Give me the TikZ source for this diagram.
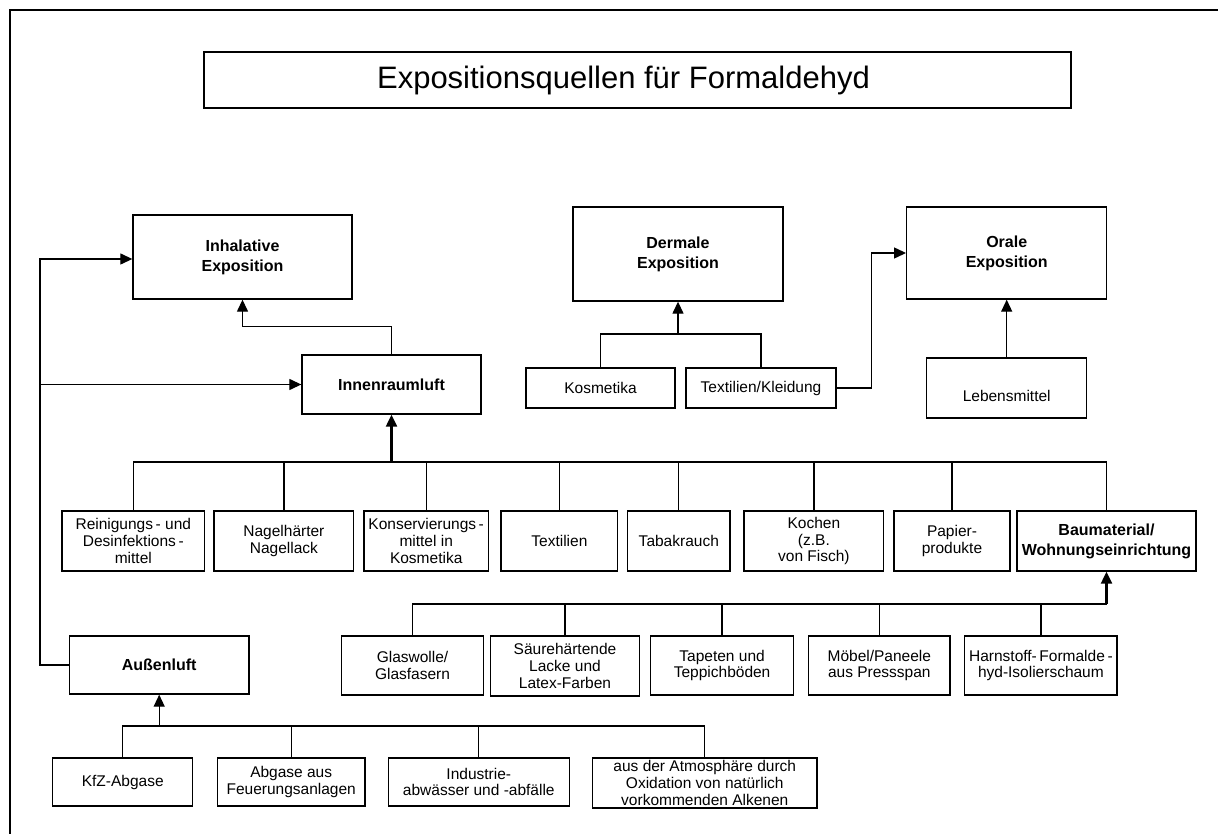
\documentclass[tikz,border=0pt]{standalone}
\usepackage{fontspec}
\setmainfont{Liberation Sans}
\usetikzlibrary{arrows.meta}
\begin{document}
\begin{tikzpicture}[x=1pt,y=-1pt,
  box/.style={draw, line width=1.35pt, fill=white, inner sep=0pt, align=center,
    font=\fontsize{15.5}{16.8}\selectfont},
  bbox/.style={box, font=\fontsize{16}{20}\selectfont\bfseries},
  con/.style={line width=1.3pt},
  thk/.style={line width=2.2pt},
  arr/.style={con, -{Triangle[length=12pt,width=11pt]}},
  tarr/.style={thk, -{Triangle[length=12pt,width=11pt]}},
]
\useasboundingbox (0,0) rectangle (1218,834);
\draw[line width=2pt] (10,834) -- (10,10) -- (1218,10);

% title
\node[box, minimum width=867, minimum height=56, font=\fontsize{31}{35}\selectfont] (title) at (637.5,80) {Expositionsquellen für Formaldehyd\hspace*{28pt}};

% top row
\node[bbox, minimum width=219, minimum height=84] (inh) at (242.5,257) {Inhalative\\Exposition};
\node[bbox, minimum width=210, minimum height=94] (derm) at (678,254) {Dermale\\Exposition};
\node[bbox, minimum width=200, minimum height=92] (oral) at (1006.7,253) {Orale\\Exposition};

% second level
\node[bbox, minimum width=179, minimum height=59] (innen) at (391.5,384.5) {Innenraumluft};
\node[box, minimum width=149, minimum height=40] (kos) at (600.5,388) {Kosmetika};
\node[box, minimum width=150, minimum height=40] (tex) at (761,388) {Textilien/Kleidung};
\node[box, minimum width=160, minimum height=60] (leb) at (1006.7,388) {};
\node[box, draw=none, fill=none] (lebt) at (1006.7,396) {Lebensmittel};

% row 2
\node[box, minimum width=142.6, minimum height=60] (rein) at (133.3,541) {Reinigungs\,- und\\Desinfektions\,-\\mittel};
\node[box, minimum width=139.8, minimum height=60] (nagel) at (283.9,541) {Nagelhärter\\Nagellack};
\node[box, minimum width=124.7, minimum height=60] (kons) at (426.2,541) {Konservierungs\,-\\mittel in\\Kosmetika};
\node[box, minimum width=116.7, minimum height=60] (textil) at (559.4,541) {Textilien};
\node[box, minimum width=102.4, minimum height=60] (tabak) at (678.8,541) {Tabakrauch};
\node[box, minimum width=139.8, minimum height=60] (kochen) at (813.9,541) {Kochen\\(z.B.\\von Fisch)};
\node[box, minimum width=116, minimum height=60] (papier) at (952,541) {Papier-\\produkte};
\node[bbox, minimum width=179, minimum height=60] (bau) at (1106.5,541) {Baumaterial/\\Wohnungseinrichtung};

% row 3
\node[box, minimum width=141.6, minimum height=59] (glas) at (412.5,665.5) {Glaswolle/\\Glasfasern};
\node[box, minimum width=148.6, minimum height=60] (saeure) at (565,666) {Säurehärtende\\Lacke und\\Latex-Farben};
\node[box, minimum width=142.8, minimum height=59] (tapeten) at (722.1,665.5) {Tapeten und\\Teppichböden};
\node[box, minimum width=141.4, minimum height=59] (moebel) at (879.3,665.5) {Möbel/Paneele\\aus Pressspan};
\node[box, minimum width=152.3, minimum height=59] (harn) at (1040.9,665.5) {Harnstoff-\,Formalde\,-\\hyd-Isolierschaum};

% Aussenluft
\node[bbox, minimum width=179.7, minimum height=58] (aussen) at (159.2,665) {Außenluft};

% row 4
\node[box, minimum width=140, minimum height=48] (kfz) at (122.7,782) {KfZ-Abgase};
\node[box, minimum width=147.7, minimum height=48] (abg) at (291.2,782) {Abgase aus\\Feuerungsanlagen};
\node[box, minimum width=181, minimum height=48] (ind) at (478.8,782) {Industrie-\\abwässer und -abfälle};
\node[box, minimum width=224.4, minimum height=50] (atm) at (704.8,783) {aus der Atmosphäre durch\\Oxidation von natürlich\\vorkommenden Alkenen};

% helper coordinates
\coordinate (lane) at (40,0);
\coordinate (b0) at (0,334);
\coordinate (b1) at (0,462);
\coordinate (b2) at (0,604);
\coordinate (b3) at (0,726);

% Aussenluft -> Inhalative / Innenraumluft
\draw[arr] (aussen.west) -- (aussen.west -| lane) |- ([yshift=-2pt]inh.west);
\draw[arr] (innen.west -| lane) -- (innen.west);

% Innenraumluft -> Inhalative
\draw[arr] (innen.north) -- ++(0,-28) -| (inh.south);

% bus 1
\draw[tarr] (innen.south |- b1) -- (innen.south);
\draw[con] (rein.north) -- (rein.north |- b1) -- (bau.north |- b1) -- (bau.north);
\draw[thk] (nagel.north |- b1) -- (papier.north |- b1);
\foreach \n in {nagel,kons,textil,tabak,kochen,papier}
  \draw[con] (\n.north) -- (\n.north |- b1);

% Dermale
\draw[arr] (derm.south |- b0) -- (derm.south);
\draw[con] (kos.north) -- (kos.north |- b0) -- (tex.north |- b0) -- (tex.north);

% Textilien/Kleidung -> Orale, Lebensmittel -> Orale
\draw[arr] (tex.east) -- ++(35,0) |- (oral.west);
\draw[arr] (leb.north) -- (oral.south);

% bus 2
\draw[tarr] (bau.south |- b2) -- (bau.south);
\draw[con] (glas.north) -- (glas.north |- b2) -- (bau.south |- b2);
\draw[thk] (saeure.north |- b2) -- (bau.south |- b2);
\foreach \n in {saeure,tapeten,moebel,harn}
  \draw[con] (\n.north) -- (\n.north |- b2);

% bus 3
\draw[arr] (aussen.south |- b3) -- (aussen.south);
\draw[con] (kfz.north) -- (kfz.north |- b3) -- (atm.north |- b3) -- (atm.north);
\foreach \n in {abg,ind}
  \draw[con] (\n.north) -- (\n.north |- b3);
\end{tikzpicture}
\end{document}
